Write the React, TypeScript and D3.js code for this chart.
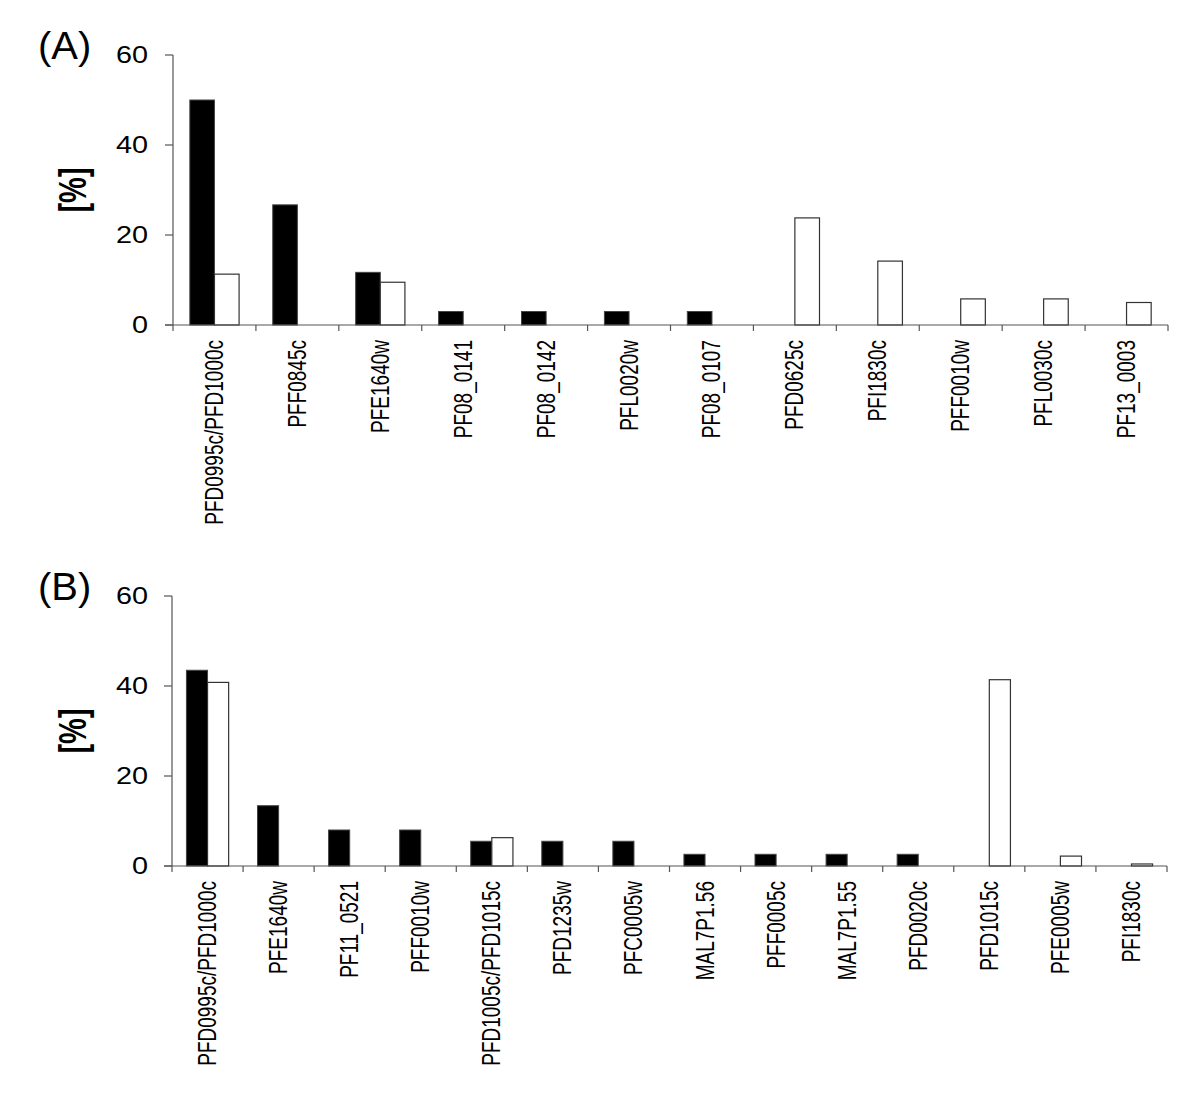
import React from "react";
import * as d3 from "d3";

const catsA = ["PFD0995c/PFD1000c","PFF0845c","PFE1640w","PF08_0141","PF08_0142","PFL0020w","PF08_0107","PFD0625c","PFI1830c","PFF0010w","PFL0030c","PF13_0003"];
const blackA = [50, 26.7, 11.7, 3, 3, 3, 3, 0, 0, 0, 0, 0];
const whiteA = [11.3, 0, 9.5, 0, 0, 0, 0, 23.8, 14.2, 5.8, 5.8, 5.0];

const catsB = ["PFD0995c/PFD1000c","PFE1640w","PF11_0521","PFF0010w","PFD1005c/PFD1015c","PFD1235w","PFC0005w","MAL7P1.56","PFF0005c","MAL7P1.55","PFD0020c","PFD1015c","PFE0005w","PFI1830c"];
const blackB = [43.5, 13.4, 8.0, 8.0, 5.5, 5.5, 5.5, 2.6, 2.6, 2.6, 2.6, 0, 0, 0];
const whiteB = [40.8, 0, 0, 0, 6.3, 0, 0, 0, 0, 0, 0, 41.4, 2.2, 0.45];

const yTicks = [0, 20, 40, 60];

const FONT = "Arial, 'Liberation Sans', sans-serif";
const AXIS = "#555";

function Panel({ cats, black, white, label, top, left, right }: any) {
  const y0 = top + 270;
  const y = d3.scaleLinear().domain([0, 60]).range([y0, top]);
  const x = d3.scaleBand().domain(cats).range([left, right]).paddingInner(0).paddingOuter(0);
  const bw = x.bandwidth() * 0.297;
  return (
    <g>
      <text transform={`translate(38,${top + 4}) scale(1.05,1)`} fontFamily={FONT} fontSize={38}>{label}</text>
      <text transform={`translate(72,${top + 135}) rotate(-90) scale(1,1.35)`} textAnchor="middle" dominantBaseline="central" fontFamily={FONT} fontSize={29} fontWeight="bold">[%]</text>
      {cats.map((c: string, i: number) => {
        const cx = (x(c) as number) + x.bandwidth() / 2;
        return (
          <g key={c}>
            {black[i] > 0 && (
              <rect x={cx - bw} y={y(black[i])} width={bw} height={y0 - y(black[i])} fill="#000" stroke="#444" strokeWidth={1} />
            )}
            {white[i] > 0 && (
              <rect x={cx} y={y(white[i])} width={bw} height={y0 - y(white[i])} fill="#fff" stroke="#333" strokeWidth={1.2} />
            )}
            <text transform={`translate(${cx},${y0 + 15}) rotate(-90) scale(1,1.35)`} textAnchor="end" dominantBaseline="central" fontFamily={FONT} fontSize={19}>{c}</text>
          </g>
        );
      })}
      <line x1={left} x2={left} y1={top} y2={y0} stroke={AXIS} strokeWidth={1.2} />
      <line x1={left - 8} x2={right} y1={y0} y2={y0} stroke={AXIS} strokeWidth={1.2} />
      {yTicks.map((t) => (
        <g key={t}>
          <line x1={left - 8} x2={left} y1={y(t)} y2={y(t)} stroke={AXIS} strokeWidth={1.2} />
          <text transform={`translate(148,${y(t)}) scale(1.2,1)`} textAnchor="end" dominantBaseline="central" fontFamily={FONT} fontSize={24}>{t}</text>
        </g>
      ))}
      {d3.range(cats.length + 1).map((i) => {
        const xx = left + i * x.bandwidth();
        return <line key={i} x1={xx} x2={xx} y1={y0} y2={y0 + 6} stroke={AXIS} strokeWidth={1.2} />;
      })}
    </g>
  );
}

export default function App() {
  return (
    <svg width={1200} height={1100} style={{ position: "absolute", left: 0, top: 0, background: "#fff" }}>
      <rect width={1200} height={1100} fill="#fff" />
      <Panel cats={catsA} black={blackA} white={whiteA} label="(A)" top={55} left={173} right={1168} />
      <Panel cats={catsB} black={blackB} white={whiteB} label="(B)" top={596} left={172} right={1167} />
    </svg>
  );
}
